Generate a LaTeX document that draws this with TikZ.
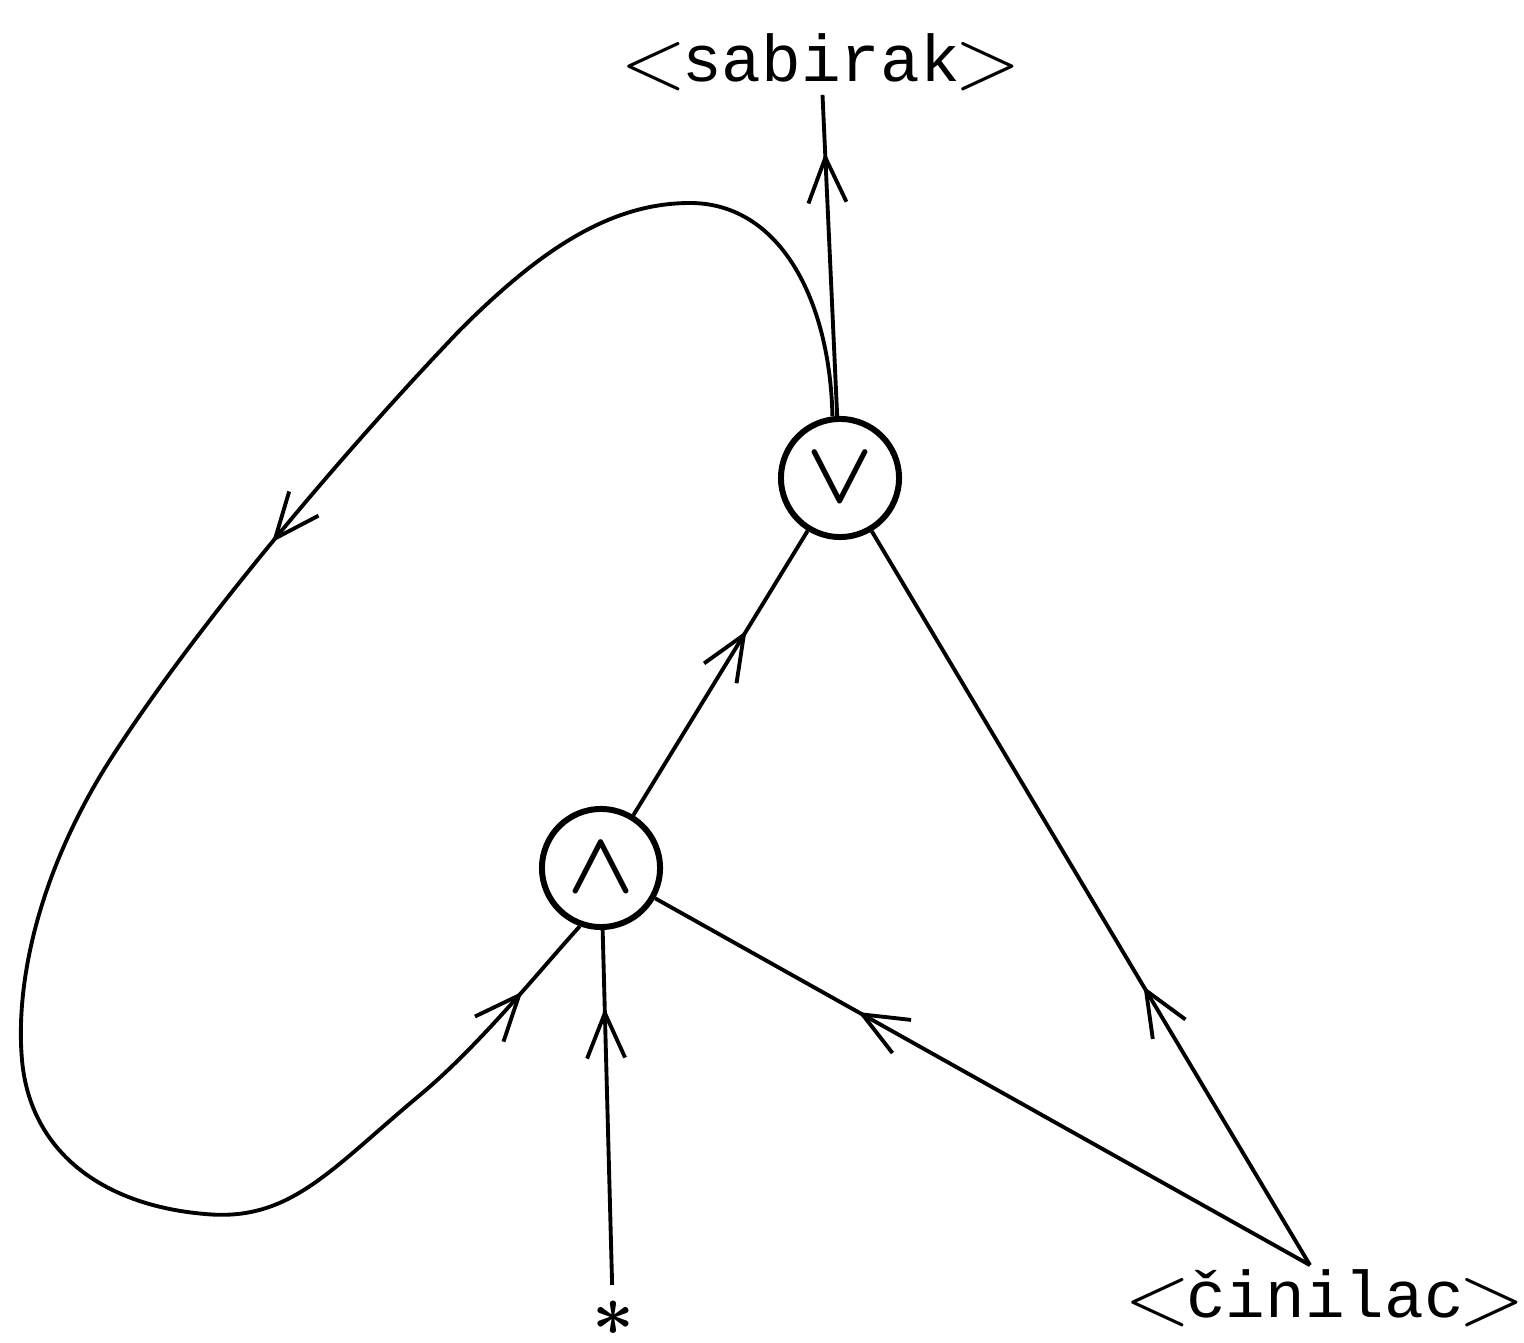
\documentclass[tikz,border=0pt]{standalone}
\usepackage{amsmath}
\usepackage{fontspec}
\setmonofont{Liberation Mono}
\usepackage{tikz}
\usetikzlibrary{arrows.meta,decorations.markings,calc}

\newcommand{\lbr}{\kern-2pt\raisebox{-2pt}{\fontsize{28}{30}\selectfont$<$}\kern-1.5pt}
\newcommand{\rbr}{\kern-1.5pt\raisebox{-2pt}{\fontsize{28}{30}\selectfont$>$}\kern-2pt}

\begin{document}
\begin{tikzpicture}[
    x=0.01cm, y=-0.01cm,
    label/.style={font=\fontsize{18.8}{24}\selectfont\ttfamily, inner sep=1pt},
    gate/.style={draw, circle, line width=1.7pt, minimum size=1.18cm, inner sep=0pt,
                 font=\fontsize{26}{30}\selectfont\boldmath},
    conn/.style={line width=1.1pt},
    midarrow/.style={postaction={decorate, decoration={markings,
        mark=at position #1 with {\arrow{Straight Barb[length=4.5mm, width=3.8mm]}}}}}
]
\useasboundingbox (0,0) rectangle (1524,1343);

% --- labels ---
\node[label] (sabirak) at (821,62) {\lbr sabirak\rbr};
\node[label] (cinilac) at (1325,1298) {\lbr činilac\rbr};
\node[inner sep=0.5pt, outer sep=4pt, font=\fontsize{22}{24}\selectfont\boldmath] (star) at (613,1318) {$\ast$};

% --- gates ---
\node[gate] (orN)  at (840,478) {$\vee$};
\node[gate] (andN) at (601,868) {$\wedge$};

% --- connections ---
\draw[conn, midarrow=0.82] (orN) -- (sabirak);
\draw[conn, midarrow=0.65] (andN) -- (orN);
\draw[conn, midarrow=0.78] (star) -- (andN);
\draw[conn, midarrow=0.69] ([xshift=-0.15cm]cinilac.north) -- (andN);
\draw[conn, midarrow=0.38] ([xshift=-0.15cm]cinilac.north) -- (orN);

% --- feedback loop ---
\draw[conn, postaction={decorate, decoration={markings,
        mark=at position 0.385 with {\arrow{Straight Barb[length=4.5mm, width=3.8mm]}},
        mark=at position 0.96 with {\arrow{Straight Barb[length=4.5mm, width=3.8mm]}}}}]
    (orN.97) .. controls (830,300) and (780,203) .. (690,203)
    .. controls (610,203) and (540,250) .. (460,330)
    .. controls (350,445) and (200,620) .. (110,760)
    .. controls (40,870) and (15,980) .. (22,1060)
    .. controls (30,1150) and (100,1205) .. (205,1214)
    .. controls (290,1222) and (330,1170) .. (420,1095)
    .. controls (480,1045) and (540,970) .. (andN.250);

\end{tikzpicture}
\end{document}
